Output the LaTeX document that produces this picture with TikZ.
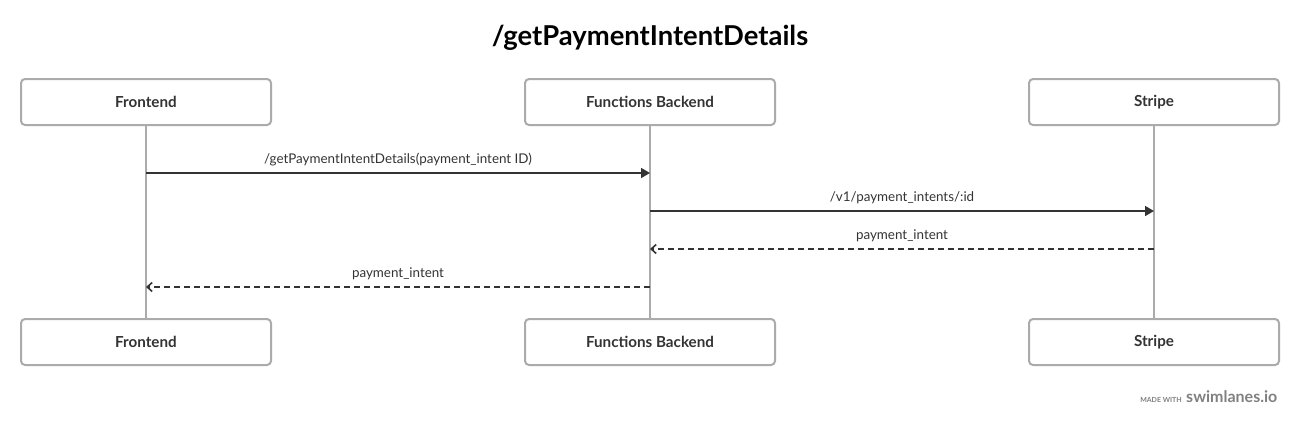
\documentclass[tikz,border=0pt]{standalone}
\usepackage{fontspec}
\setmainfont{Lato}
\usetikzlibrary{arrows.meta}
\definecolor{boxgray}{HTML}{ABABAB}
\definecolor{ink}{HTML}{333333}
\begin{document}
\begin{tikzpicture}[x=1pt,y=-1pt,
  actor/.style={draw=boxgray,line width=2pt,rounded corners=4pt,minimum width=250pt,minimum height=46pt,inner sep=0pt,font=\fontsize{15.2}{17}\selectfont\bfseries,text=ink,fill=white},
  life/.style={draw=boxgray,line width=2pt},
  msg/.style={draw=ink,line width=1.6pt,-{Triangle[length=9pt,width=10pt]}},
  ret/.style={draw=ink,line width=1.6pt,dash pattern=on 6pt off 4pt,-{Straight Barb[length=5pt,width=9pt,line width=1.6pt]}},
  lbl/.style={font=\fontsize{13.4}{15}\selectfont,text=ink,inner sep=0pt}]
\useasboundingbox (0,0) rectangle (1300,426);
\node[font=\fontsize{27.4}{32}\selectfont\bfseries,text=black] (title) at (650,38) {/getPaymentIntentDetails};
% lifelines
\draw[life] (146,125) -- (146,319);
\draw[life] (650,125) -- (650,319);
\draw[life] (1154,125) -- (1154,319);
% actors
\node[actor] (fe) at (146,102) {Frontend};
\node[actor] (fb) at (650,102) {Functions Backend};
\node[actor] (st) at (1154,102) {Stripe};
\node[actor] (fe2) at (146,342) {Frontend};
\node[actor] (fb2) at (650,342) {Functions Backend};
\node[actor] (st2) at (1154,342) {Stripe};
% message coordinates
\coordinate (m1a) at (146,173); \coordinate (m1b) at (650,173);
\coordinate (m2a) at (650,211); \coordinate (m2b) at (1154,211);
\coordinate (m3a) at (1154,249); \coordinate (m3b) at (650,249);
\coordinate (m4a) at (650,287); \coordinate (m4b) at (146,287);
\draw[msg] (m1a) -- (m1b);
\node[lbl] (l1) at (398,160) {/getPaymentIntentDetails(payment\_intent ID)};
\draw[msg] (m2a) -- (m2b);
\node[lbl] (l2) at (902,198) {/v1/payment\_intents/:id};
\draw[ret] (m3a) -- (m3b);
\node[lbl] (l3) at (902,236) {payment\_intent};
\draw[ret] (m4a) -- (m4b);
\node[lbl] (l4) at (398,274) {payment\_intent};
% footer
\node[anchor=base east,inner sep=0pt,font=\fontsize{7}{8}\selectfont\bfseries,text=gray] (made) at (1182,402) {MADE WITH};
\node[anchor=base west,inner sep=0pt,font=\fontsize{16}{18}\selectfont\bfseries,text=gray] (sw) at (1186,402) {swimlanes.io};
\end{tikzpicture}
\end{document}
